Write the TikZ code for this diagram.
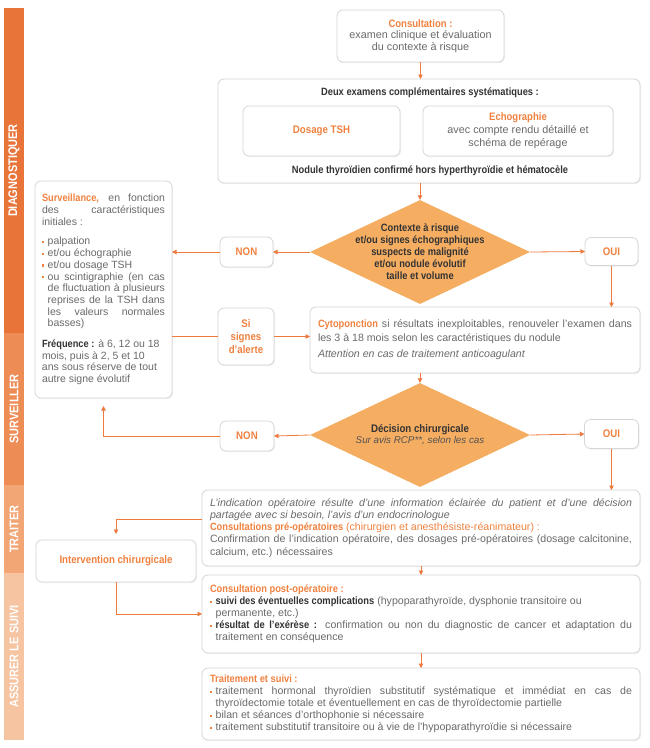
\documentclass[tikz,border=0pt]{standalone}
\usepackage{fontspec}
\setmainfont{Liberation Sans}
\newfontfamily\cond[FakeStretch=0.88]{Liberation Sans}
\usetikzlibrary{shapes.geometric,arrows.meta,shadows}
\definecolor{orng}{HTML}{F0813F}
\definecolor{lineor}{HTML}{EE7A3E}
\definecolor{diafill}{HTML}{F5AD62}
\definecolor{boxgray}{HTML}{D6D6D6}
\definecolor{txtgray}{HTML}{6A6A6A}
\definecolor{darktxt}{HTML}{333333}
\definecolor{sa}{HTML}{E9743A}
\definecolor{sb}{HTML}{EE8C55}
\definecolor{sc}{HTML}{F2A676}
\definecolor{sd}{HTML}{F7C4A1}
\setlength{\lineskiplimit}{-20pt}
\newcommand\OrB[1]{{\color{orng}\cond\bfseries #1}}
\newcommand\DkB[1]{{\color{darktxt}\cond\bfseries #1}}
\newcommand\mybul{{\color{orng}\rule[0.3ex]{2.3pt}{2.3pt}}\hskip 3.4pt\relax}
\newcommand\myBlock[2]{\vbox{\hsize=#1\relax\parindent=0pt\relax #2}}
\newcommand\myLnJ[1]{\hbox to \hsize{#1}}
\newcommand\myLnR[1]{\hbox to \hsize{#1\hfil}}
\newcommand\myBuJ[1]{\hbox to \hsize{\mybul #1}}
\newcommand\myBuR[1]{\hbox to \hsize{\mybul #1\hfil}}
\newcommand\myInJ[1]{\hbox to \hsize{\hskip 5.7pt\relax #1}}
\newcommand\myInR[1]{\hbox to \hsize{\hskip 5.7pt\relax #1\hfil}}
\begin{document}
\begin{tikzpicture}[x=1pt,y=-1pt,
  box/.style={draw=boxgray, line width=0.8pt, rounded corners=6pt, fill=white,
    drop shadow={opacity=0.12, shadow xshift=1pt, shadow yshift=-1pt},
    inner sep=0pt, outer sep=0pt},
  txt/.style={font=\fontsize{10.6}{12.1}\selectfont, text=txtgray},
  lab/.style={text=orng, font=\fontsize{11}{12.5}\cond\bfseries, align=center},
  dkt/.style={text=darktxt, font=\fontsize{10.6}{12}\cond\bfseries, align=center},
  diam/.style={shape=diamond, fill=diafill, draw=none, inner sep=0pt,
    minimum width=220pt, minimum height=104pt},
  side/.style={draw=none, inner sep=0pt, minimum width=20pt},
  sidetxt/.style={text=white, font=\fontsize{12.5}{13}\cond\bfseries, rotate=90},
  lnk/.style={draw=lineor, line width=0.8pt},
  arr/.style={lnk, -{Triangle[length=4.5pt,width=4.5pt]}}
]
\useasboundingbox (0,0) rectangle (650,748);
\fill[white] (0,0) rectangle (650,748);

% sidebar
\node[side, fill=sa, minimum height=325pt] (s1) at (14,170.5) {};
\node[side, fill=sb, minimum height=152pt] (s2) at (14,409) {};
\node[side, fill=sc, minimum height=88pt] (s3) at (14,529) {};
\node[side, fill=sd, minimum height=167pt] (s4) at (14,656.5) {};
\node[sidetxt] (s1t) at (s1) {DIAGNOSTIQUER};
\node[sidetxt] (s2t) at (s2) {SURVEILLER};
\node[sidetxt] (s3t) at (s3) {TRAITER};
\node[sidetxt] (s4t) at (s4) {ASSURER LE SUIVI};

% consultation
\node[box, minimum width=167pt, minimum height=52pt, align=center, text=txtgray,
  font=\fontsize{10.8}{11.4}\selectfont] (cons) at (420.5,36)
  {\OrB{Consultation :}\\examen clinique et évaluation\\du contexte à risque};

% big box
\node[box, minimum width=422pt, minimum height=104pt] (big) at (429,131) {};
\node[dkt] (bigt) at (430,93) {Deux examens complémentaires systématiques :};
\node[dkt] (bigb) at (430,171) {Nodule thyroïdien confirmé hors hyperthyroïdie et hématocèle};
\node[box, lab, minimum width=157pt, minimum height=50pt] (tsh) at (321.5,131) {Dosage TSH};
\node[box, minimum width=190pt, minimum height=50pt, align=center, text=txtgray,
  font=\fontsize{10.8}{12.8}\selectfont] (echo) at (518,131)
  {\OrB{Echographie}\\avec compte rendu détaillé et\\schéma de repérage};

% diamond 1
\node[diam] (d1) at (420,252) {};
\node[dkt] (d1t) at (d1)
  {Contexte à risque\\et/ou signes échographiques\\suspects de malignité\\et/ou nodule évolutif\\taille et volume};
\node[box, lab, minimum width=53pt, minimum height=30pt] (non1) at (246.5,252) {NON};
\node[box, lab, minimum width=53pt, minimum height=28pt] (oui1) at (611.5,251.5) {OUI};

% surveillance
\node[box, txt, font=\fontsize{10.5}{11.7}\selectfont,
  minimum width=137pt, minimum height=217pt] (surv) at (103.5,289.5)
  {\myBlock{123pt}{%
   \myLnJ{\OrB{Surveillance,} en fonction}
   \myLnJ{des caractéristiques}
   \myLnR{initiales :}
   \vskip 8pt
   \myBuR{palpation}
   \myBuR{et/ou échographie}
   \myBuR{et/ou dosage TSH}
   \myBuJ{ou scintigraphie (en cas}
   \myInJ{de fluctuation à plusieurs}
   \myInJ{reprises de la TSH dans}
   \myInJ{les valeurs normales}
   \myInR{basses)}
   \vskip 9pt
   \myLnR{\DkB{Fréquence :} à 6, 12 ou 18}
   \myLnR{mois, puis à 2, 5 et 10}
   \myLnR{ans sous réserve de tout}
   \myLnR{autre signe évolutif}}};

% si signes d'alerte
\node[box, lab, minimum width=56pt, minimum height=57pt,
  font=\fontsize{11}{12.6}\cond\bfseries] (alert) at (246,336.5) {Si\\signes\\d’alerte};

% cytoponction
\node[box, txt, font=\fontsize{10.6}{14}\selectfont, minimum width=330pt, minimum height=66pt] (cyto) at (475,340)
  {\myBlock{314pt}{%
   \myLnJ{\OrB{Cytoponction} si résultats inexploitables, renouveler l’examen dans}
   \myLnR{les 3 à 18 mois selon les caractéristiques du nodule}
   \vskip 2pt
   \myLnR{\itshape Attention en cas de traitement anticoagulant}}};

% diamond 2
\node[diam] (d2) at (420,435) {};
\node[align=center] (d2t) at (d2)
  {\DkB{\fontsize{11}{12.5}\selectfont Décision chirurgicale}\\[-1pt]
   {\color{darktxt!85}\itshape\fontsize{9.8}{11}\selectfont Sur avis RCP**, selon les cas}};
\node[box, lab, minimum width=54pt, minimum height=30pt] (non2) at (247,436) {NON};
\node[box, lab, minimum width=54pt, minimum height=29pt] (oui2) at (611.5,434) {OUI};

% traiter
\node[box, txt, minimum width=438pt, minimum height=76pt] (trait) at (421,528)
  {\myBlock{422pt}{%
   \myLnJ{\itshape L’indication opératoire résulte d’une information éclairée du patient et d’une décision}
   \myLnR{\itshape partagée avec si besoin, l’avis d’un endocrinologue}
   \myLnR{\OrB{Consultations pré-opératoires} \color{orng}(chirurgien et anesthésiste-réanimateur) :}
   \myLnJ{Confirmation de l’indication opératoire, des dosages pré-opératoires (dosage calcitonine,}
   \myLnR{calcium, etc.) nécessaires}}};
\node[box, lab, minimum width=160pt, minimum height=42pt] (interv) at (116,561) {Intervention chirurgicale};

% post-op
\node[box, txt, minimum width=438pt, minimum height=78pt] (post) at (421,614)
  {\myBlock{422pt}{%
   \myLnR{\OrB{Consultation post-opératoire :}}
   \myBuR{\DkB{suivi des éventuelles complications} (hypoparathyroïde, dysphonie transitoire ou}
   \myInR{permanente, etc.)}
   \myBuJ{\DkB{résultat de l’exérèse :} confirmation ou non du diagnostic de cancer et adaptation du}
   \myInR{traitement en conséquence}}};

% traitement et suivi
\node[box, txt, minimum width=438pt, minimum height=72pt] (suivi) at (421,704)
  {\myBlock{422pt}{%
   \myLnR{\OrB{Traitement et suivi :}}
   \myBuJ{traitement hormonal thyroïdien substitutif systématique et immédiat en cas de}
   \myInR{thyroïdectomie totale et éventuellement en cas de thyroïdectomie partielle}
   \myBuR{bilan et séances d’orthophonie si nécessaire}
   \myBuR{traitement substitutif transitoire ou à vie de l’hypoparathyroïdie si nécessaire}}};

% connectors
\draw[arr] (cons.south) -- (cons.south |- big.north);
\draw[arr] (d1.north |- big.south) -- (d1.north);
\draw[arr] (d1.west) -- (non1.east);
\draw[arr] (non1.west) -- (non1.west -| surv.east);
\draw[arr] (d1.east) -- (oui1.west);
\draw[arr] (oui1.south) -- (oui1.south |- cyto.north);
\draw[lnk] (alert.west -| surv.east) -- (alert.west);
\draw[arr] (alert.east) -- (alert.east -| cyto.west);
\draw[arr] (d2.north |- cyto.south) -- (d2.north);
\draw[arr] (d2.west) -- (non2.east);
\draw[arr] (non2.west) -- (non2.west -| surv.south) -- ([yshift=-8pt]surv.south);
\draw[arr] (d2.east) -- (oui2.west);
\draw[arr] (oui2.south) -- (oui2.south |- trait.north);
\draw[arr] ([yshift=9pt]trait.west) -- ([yshift=9pt]trait.west -| interv.north) -- ([yshift=6pt]interv.north);
\draw[arr] (post.north |- trait.south) -- (post.north);
\draw[arr] (interv.south) -- (interv.south |- post.west) -- (post.west);
\draw[arr] (suivi.north |- post.south) -- (suivi.north);
\end{tikzpicture}
\end{document}
